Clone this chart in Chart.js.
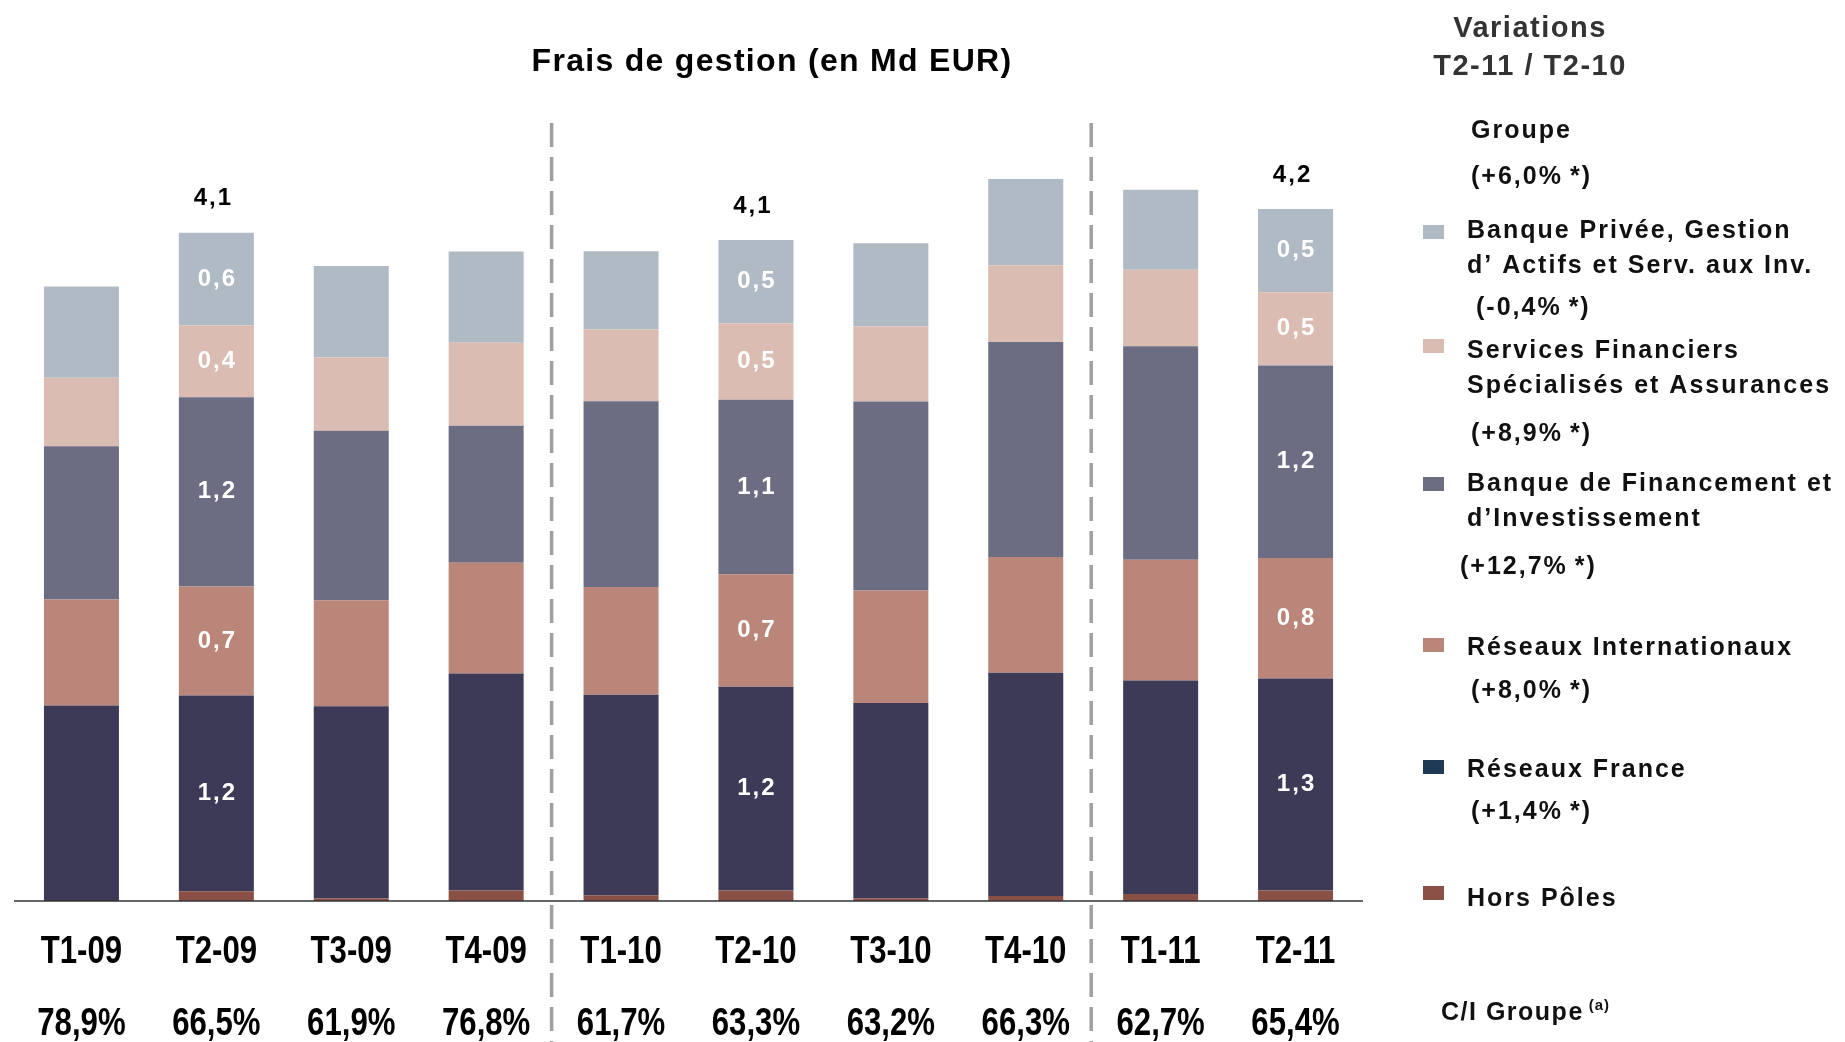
<!DOCTYPE html>
<html>
<head>
<meta charset="utf-8">
<script src="https://cdn.jsdelivr.net/npm/chart.js@4/dist/chart.umd.min.js"></script>
<style>
  html, body { margin: 0; padding: 0; background: #fff; overflow: hidden; }
  #wrap { width: 1845px; height: 1042px; }
</style>
</head>
<body>
<div id="wrap"><canvas id="fraisChart" width="1845" height="1042"></canvas></div>
<script>
// ---- data (Md EUR) ----
const quarters = ['T1-09', 'T2-09', 'T3-09', 'T4-09', 'T1-10', 'T2-10', 'T3-10', 'T4-10', 'T1-11', 'T2-11'];
const ratioCI  = ['78,9%', '66,5%', '61,9%', '76,8%', '61,7%', '63,3%', '63,2%', '66,3%', '62,7%', '65,4%'];

const horsPoles     = [0.00, 0.06, 0.015, 0.065, 0.036, 0.065, 0.015, 0.03, 0.043, 0.065];
const reseauxFrance = [1.20, 1.20, 1.18, 1.33, 1.23, 1.25, 1.20, 1.37, 1.31, 1.30];
const reseauxIntl   = [0.65, 0.67, 0.65, 0.68, 0.66, 0.69, 0.69, 0.71, 0.74, 0.74];
const bfi           = [0.94, 1.16, 1.04, 0.84, 1.14, 1.07, 1.16, 1.32, 1.31, 1.18];
const sfsAssurances = [0.42, 0.44, 0.45, 0.51, 0.44, 0.47, 0.46, 0.47, 0.47, 0.45];
const bpgaSi        = [0.56, 0.57, 0.56, 0.56, 0.48, 0.51, 0.51, 0.53, 0.49, 0.51];

// labels printed on the bars (only T2-09, T2-10, T2-11)
const lblRF    = ['', '1,2', '', '', '', '1,2', '', '', '', '1,3'];
const lblRI    = ['', '0,7', '', '', '', '0,7', '', '', '', '0,8'];
const lblBFI   = ['', '1,2', '', '', '', '1,1', '', '', '', '1,2'];
const lblSFS   = ['', '0,4', '', '', '', '0,5', '', '', '', '0,5'];
const lblBPGA  = ['', '0,6', '', '', '', '0,5', '', '', '', '0,5'];
const lblTotal = ['', '4,1', '', '', '', '4,1', '', '', '', '4,2'];

// legend text, top to bottom
const variations = ['(+6,0%\u2009*)', '(-0,4%\u2009*)', '(+8,9%\u2009*)', '(+12,7%\u2009*)', '(+8,0%\u2009*)', '(+1,4%\u2009*)'];

const FONT = "'Liberation Sans', Arial, sans-serif";

const datasets = [
    { label: 'Hors Pôles', data: horsPoles, backgroundColor: '#8b5045', lbl: null },
    { label: 'Réseaux France', data: reseauxFrance, backgroundColor: '#3d3a58', lbl: lblRF },
    { label: 'Réseaux Internationaux', data: reseauxIntl, backgroundColor: '#bb867a', lbl: lblRI },
    { label: 'BFI', data: bfi, backgroundColor: '#6c6d83', lbl: lblBFI },
    { label: 'SFS', data: sfsAssurances, backgroundColor: '#dabcb3', lbl: lblSFS },
    { label: 'BPGA', data: bpgaSi, backgroundColor: '#b0bac4', lbl: lblBPGA }
].map(d => Object.assign(d, { barPercentage: 0.556, categoryPercentage: 1, borderWidth: 0 }));

function txt(ctx, s, x, y, font, color, align, spacing) {
    ctx.font = font;
    ctx.fillStyle = color;
    ctx.textAlign = align || 'left';
    ctx.textBaseline = 'middle';
    ctx.letterSpacing = spacing || '0px';
    ctx.fillText(s, x, y);
    ctx.letterSpacing = '0px';
}

// arial-narrow look: squeeze liberation sans horizontally
function narrowTxt(ctx, s, x, y, size) {
    ctx.save();
    ctx.translate(x, y);
    ctx.scale(0.82, 1);
    txt(ctx, s, 0, 0, 'bold ' + size + 'px ' + FONT, '#000000', 'center');
    ctx.restore();
}

const decorPlugin = {
    id: 'decor',
    afterDatasetsDraw(chart) {
        const ctx = chart.ctx;
        const xs = chart.scales.x, ys = chart.scales.y;
        const area = chart.chartArea;
        ctx.save();

        // values inside the segments
        chart.data.datasets.forEach((ds, di) => {
            if (!ds.lbl) return;
            const meta = chart.getDatasetMeta(di);
            meta.data.forEach((bar, i) => {
                if (!ds.lbl[i]) return;
                const yc = (bar.y + bar.base) / 2;
                txt(ctx, ds.lbl[i], bar.x + 1, yc, 'bold 24px ' + FONT, '#ffffff', 'center', '2px');
            });
        });

        // totals above bars
        const top = chart.getDatasetMeta(chart.data.datasets.length - 1);
        top.data.forEach((bar, i) => {
            if (!lblTotal[i]) return;
            txt(ctx, lblTotal[i], bar.x - 3, bar.y - 34, 'bold 24px ' + FONT, '#000000', 'center', '2px');
        });

        // base line
        const y0 = ys.getPixelForValue(0);
        ctx.strokeStyle = '#333333';
        ctx.lineWidth = 1.5;
        ctx.beginPath();
        ctx.moveTo(area.left, y0);
        ctx.lineTo(area.right, y0);
        ctx.stroke();

        // dashed separators between years
        ctx.strokeStyle = '#a0a0a0';
        ctx.lineWidth = 3.5;
        ctx.setLineDash([24, 10]);
        [3, 7].forEach(i => {
            const x = (xs.getPixelForValue(i) + xs.getPixelForValue(i + 1)) / 2 - 2;
            ctx.beginPath();
            ctx.moveTo(x, 123);
            ctx.lineTo(x, 1042);
            ctx.stroke();
        });
        ctx.setLineDash([]);

        // quarter labels and C/I ratios
        quarters.forEach((q, i) => {
            const x = xs.getPixelForValue(i);
            narrowTxt(ctx, q, x, 953, 38);
            narrowTxt(ctx, ratioCI[i], x, 1025, 38);
        });

        // title
        txt(ctx, 'Frais de gestion (en Md EUR)', 772, 62, 'bold 32px ' + FONT, '#000000', 'center', '1.3px');

        // right-hand legend
        const lf = 'bold 25px ' + FONT;
        const lc = '#111111';
        txt(ctx, 'Variations', 1530, 29, 'bold 29px ' + FONT, '#333333', 'center', '1.5px');
        txt(ctx, 'T2-11 / T2-10', 1530, 67, 'bold 29px ' + FONT, '#333333', 'center', '1.5px');

        txt(ctx, 'Groupe', 1471, 131, lf, lc, 'left', '2px');
        txt(ctx, variations[0], 1471, 177, lf, lc, 'left', '2px');

        const sw = (color, y) => { ctx.fillStyle = color; ctx.fillRect(1423, y - 7, 21, 14); };

        sw('#b0bac4', 232);
        txt(ctx, 'Banque Privée, Gestion', 1467, 231, lf, lc, 'left', '2px');
        txt(ctx, 'd\u2019 Actifs et Serv. aux Inv.', 1467, 266, lf, lc, 'left', '2px');
        txt(ctx, variations[1], 1476, 308, lf, lc, 'left', '2px');

        sw('#dabcb3', 346);
        txt(ctx, 'Services Financiers', 1467, 351, lf, lc, 'left', '2px');
        txt(ctx, 'Spécialisés et Assurances', 1467, 386, lf, lc, 'left', '2px');
        txt(ctx, variations[2], 1471, 434, lf, lc, 'left', '2px');

        sw('#6c6d83', 484);
        txt(ctx, 'Banque de Financement et', 1467, 484, lf, lc, 'left', '2px');
        txt(ctx, 'd\u2019Investissement', 1467, 519, lf, lc, 'left', '2px');
        txt(ctx, variations[3], 1460, 567, lf, lc, 'left', '2px');

        sw('#bb867a', 645);
        txt(ctx, 'Réseaux Internationaux', 1467, 648, lf, lc, 'left', '2px');
        txt(ctx, variations[4], 1471, 691, lf, lc, 'left', '2px');

        sw('#1f3a55', 767);
        txt(ctx, 'Réseaux France', 1467, 770, lf, lc, 'left', '2px');
        txt(ctx, variations[5], 1471, 812, lf, lc, 'left', '2px');

        sw('#8b5045', 893);
        txt(ctx, 'Hors Pôles', 1467, 899, lf, lc, 'left', '2px');

        txt(ctx, 'C/I Groupe', 1441, 1013, lf, lc, 'left', '1.5px');
        ctx.font = lf;
        ctx.letterSpacing = '1.5px';
        const w = ctx.measureText('C/I Groupe').width;
        ctx.letterSpacing = '0px';
        txt(ctx, '(a)', 1441 + w + 5, 1006, 'bold 15px ' + FONT, lc, 'left', '1px');

        ctx.restore();
    }
};

new Chart(document.getElementById('fraisChart').getContext('2d'), {
    type: 'bar',
    data: { labels: quarters, datasets: datasets },
    options: {
        responsive: false,
        animation: false,
        layout: { padding: { left: 14, right: 482, top: 86, bottom: 141 } },
        plugins: { legend: { display: false }, tooltip: { enabled: false } },
        scales: {
            x: { stacked: true, display: false },
            y: { stacked: true, display: false, min: 0, max: 5 }
        }
    },
    plugins: [decorPlugin]
});
</script>
</body>
</html>
